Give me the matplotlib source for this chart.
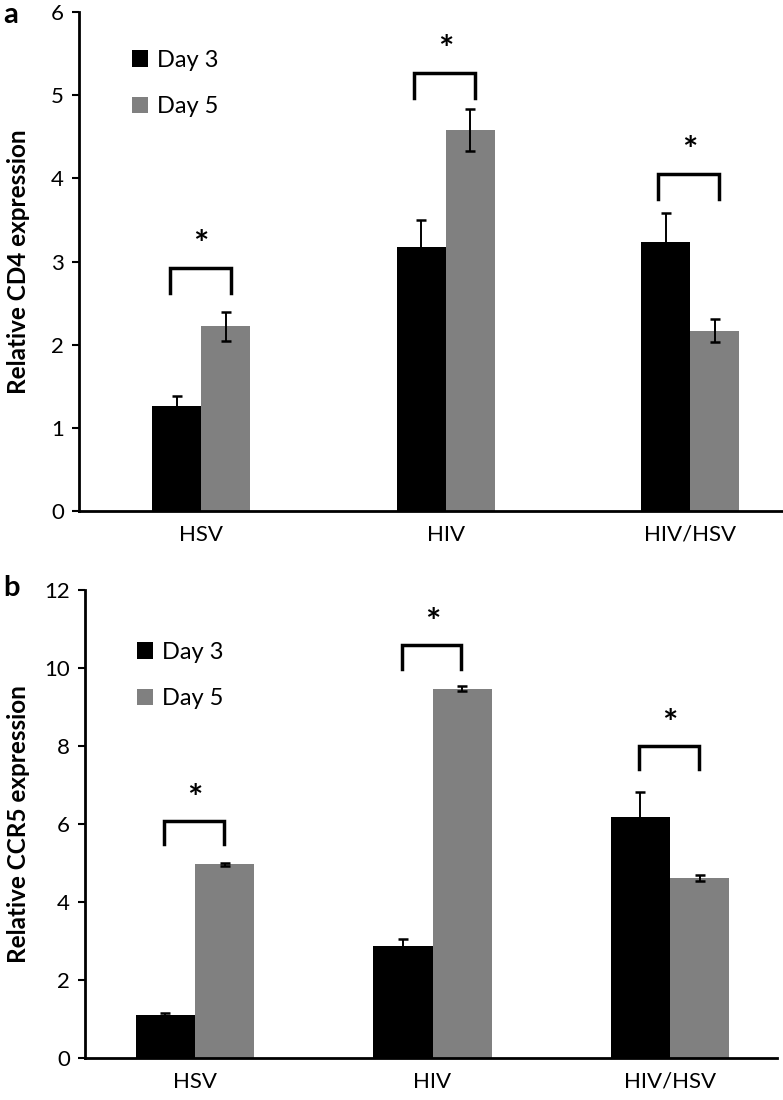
import numpy as np
import matplotlib
matplotlib.use('Agg')
import matplotlib.pyplot as plt

plt.rcParams['font.family'] = ['Lato', 'DejaVu Sans']

groups = ['HSV', 'HIV', 'HIV/HSV']
series = ['Day 3', 'Day 5']

cd4_day3 = [1.26, 3.17, 3.24]
cd4_day3_err = [0.12, 0.33, 0.34]
cd4_day5 = [2.22, 4.58, 2.17]
cd4_day5_err = [0.17, 0.25, 0.14]
cd4_bracket = [2.92, 5.27, 4.05]

ccr5_day3 = [1.10, 2.86, 6.19]
ccr5_day3_err = [0.05, 0.18, 0.62]
ccr5_day5 = [4.97, 9.47, 4.61]
ccr5_day5_err = [0.04, 0.06, 0.07]
ccr5_bracket = [6.08, 10.58, 8.00]

BLACK = '#000000'
GRAY = '#808080'


def draw_panel(ax, d3, d3e, d5, d5e, brackets, ymax, ystep, width, xlim,
               ylabel, leg_len, star_gap, legend_y):
    x = np.arange(len(groups))
    b1 = ax.bar(x - width / 2, d3, width, color=BLACK, label=series[0])
    b2 = ax.bar(x + width / 2, d5, width, color=GRAY, label=series[1])
    ax.errorbar(x - width / 2, d3, yerr=d3e, fmt='none', ecolor='black',
                elinewidth=1.4, capsize=3.5, capthick=1.8)
    ax.errorbar(x + width / 2, d5, yerr=d5e, fmt='none', ecolor='black',
                elinewidth=1.4, capsize=3.5, capthick=1.8)

    # significance brackets
    for xi, top in zip(x, brackets):
        xl, xr = xi - 0.13, xi + 0.12
        ax.plot([xl, xl, xr, xr], [top - leg_len, top, top, top - leg_len],
                color='black', lw=2.5, solid_joinstyle='miter')
        ax.text(xi, top + star_gap, '*', ha='center', va='center',
                fontsize=26, fontweight='bold')

    ax.set_xlim(*xlim)
    ax.set_ylim(0, ymax)
    ax.set_yticks(np.arange(0, ymax + ystep / 2, ystep))
    ax.set_xticks(x)
    ax.set_xticklabels(groups)
    for s in ['top', 'right']:
        ax.spines[s].set_visible(False)
    for s in ['left', 'bottom']:
        ax.spines[s].set_linewidth(2)
    ax.tick_params(axis='x', length=0, pad=10, labelsize=16)
    ax.tick_params(axis='y', length=5, width=1.5, pad=6, labelsize=16)
    ax.set_ylabel(ylabel, fontsize=17.5, fontweight='bold')
    ax.legend(handles=[b1, b2], loc='upper left', frameon=False,
              bbox_to_anchor=(0.075, legend_y), borderaxespad=0, borderpad=0,
              fontsize=17, handlelength=0.7, handleheight=0.7,
              handletextpad=0.35, labelspacing=1.1)


fig = plt.figure(figsize=(7.83, 11.0), dpi=100)

ax1 = fig.add_axes([0.101, 0.5355, 0.899, 0.4535])
draw_panel(ax1, cd4_day3, cd4_day3_err, cd4_day5, cd4_day5_err, cd4_bracket,
           6, 1, 0.2, (-0.5, 2.38), 'Relative CD4 expression', 0.3, 0.27, 0.925)
ax1.yaxis.set_label_coords(-0.07, 0.5)

ax2 = fig.add_axes([0.1086, 0.0382, 0.8837, 0.4254])
draw_panel(ax2, ccr5_day3, ccr5_day3_err, ccr5_day5, ccr5_day5_err, ccr5_bracket,
           12, 2, 0.25, (-0.463, 2.45), 'Relative CCR5 expression', 0.6, 0.55, 0.89)
ax2.yaxis.set_label_coords(-0.08, 0.5)

fig.text(0.004, 0.986, 'a', fontsize=21, fontweight='bold', va='center')
fig.text(0.004, 0.4655, 'b', fontsize=21, fontweight='bold', va='center')

fig.savefig('out.png', dpi=100)
